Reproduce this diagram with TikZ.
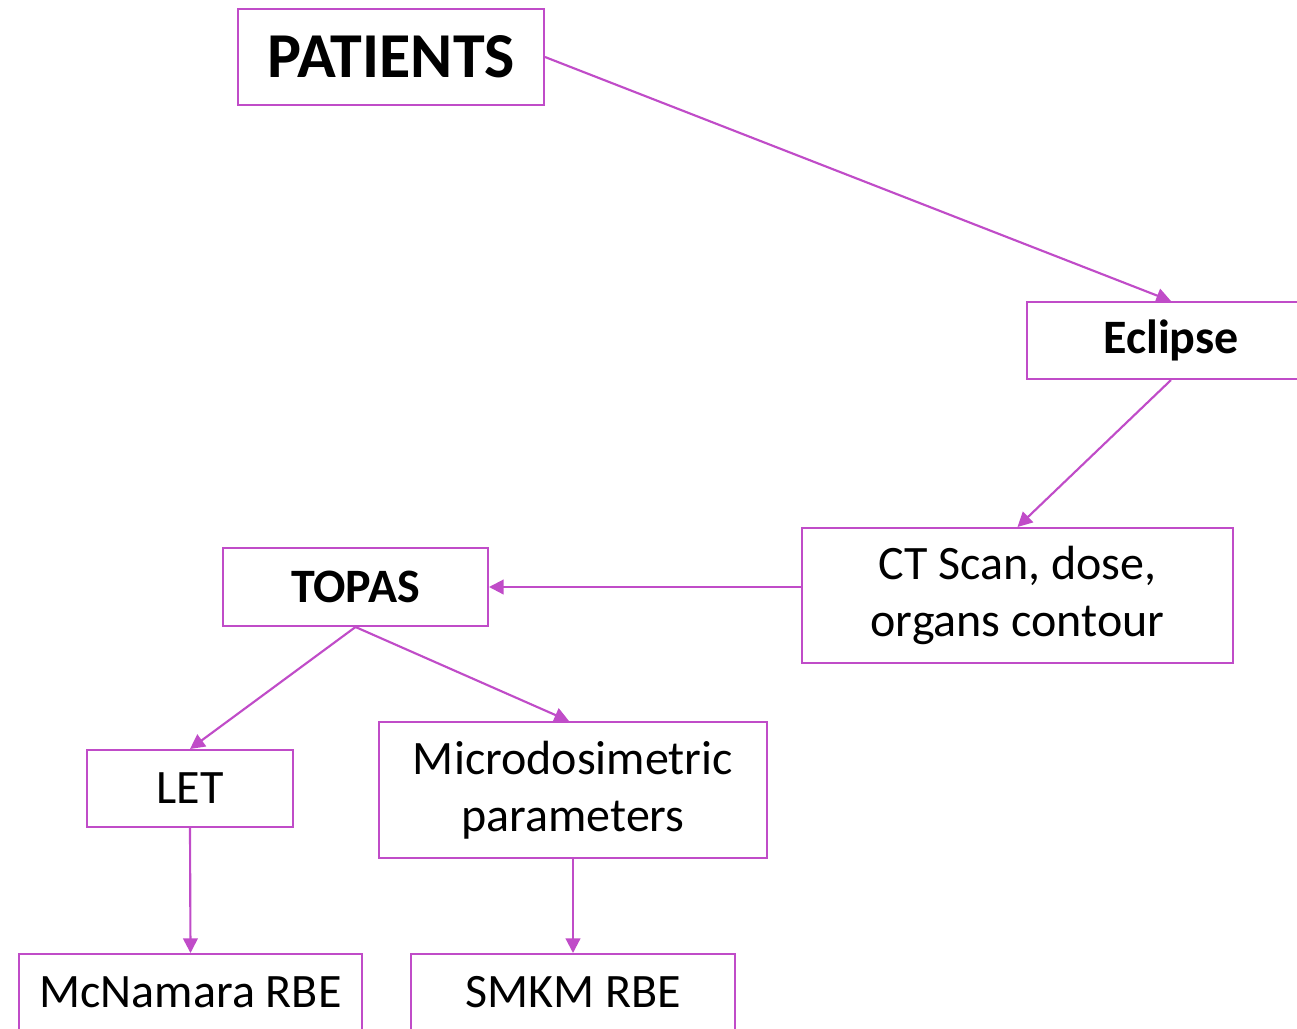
\documentclass[tikz,border=0pt]{standalone}
\usepackage{fontspec}
\setmainfont{Carlito}
\usetikzlibrary{arrows.meta}
\definecolor{mag}{RGB}{192,76,200}
\tikzset{
  box/.style={draw=mag, line width=1.5pt, align=center, inner sep=0pt, font=\fontsize{36}{43}\selectfont},
  arr/.style={draw=mag, line width=1.6pt, -{Triangle[length=11pt, width=11pt]}}
}

\begin{document}
\begin{tikzpicture}[x=0.75pt, y=-0.75pt]
  \useasboundingbox (0,0) rectangle (1297,1029);
  \clip (0,0) rectangle (1297,1029);
  \node[box, minimum width=229.5pt, minimum height=72pt, font=\fontsize{48}{54}\selectfont\bfseries] (pat) at (391,57) {PATIENTS};
  \node[box, minimum width=216pt, minimum height=57.75pt, font=\fontsize{36}{43}\selectfont\bfseries] (ecl) at (1171,340.5) {Eclipse};
  \node[box, minimum width=323.25pt, minimum height=101.25pt] (ct) at (1017.5,595.5) {CT Scan, dose,\\organs contour};
  \node[box, minimum width=198.75pt, minimum height=58.5pt, font=\fontsize{36}{43}\selectfont\bfseries] (topas) at (355.5,587) {TOPAS};
  \node[box, minimum width=154.5pt, minimum height=57.75pt] (let) at (190,788.5) {LET};
  \node[box, minimum width=291pt, minimum height=102pt] (micro) at (573,790) {Microdosimetric\\parameters};
  \node[box, minimum width=257.25pt, minimum height=57.75pt] (mcn) at (190.5,992.5) {McNamara RBE};
  \node[box, minimum width=243pt, minimum height=57.75pt] (smkm) at (573,992.5) {SMKM RBE};

  \draw[arr] (pat.east) -- (ecl.north);
  \draw[arr] (ecl.south) -- (ct.north);
  \draw[arr] (ct.west |- topas.east) -- (topas.east);
  \draw[arr] (topas.south) -- ([xshift=-3pt]micro.north);
  \draw[arr] (topas.south) -- (let.north);
  \draw[arr] (let.south) -- (mcn.north);
  \draw[arr] (micro.south) -- (smkm.north);
\end{tikzpicture}
\end{document}
